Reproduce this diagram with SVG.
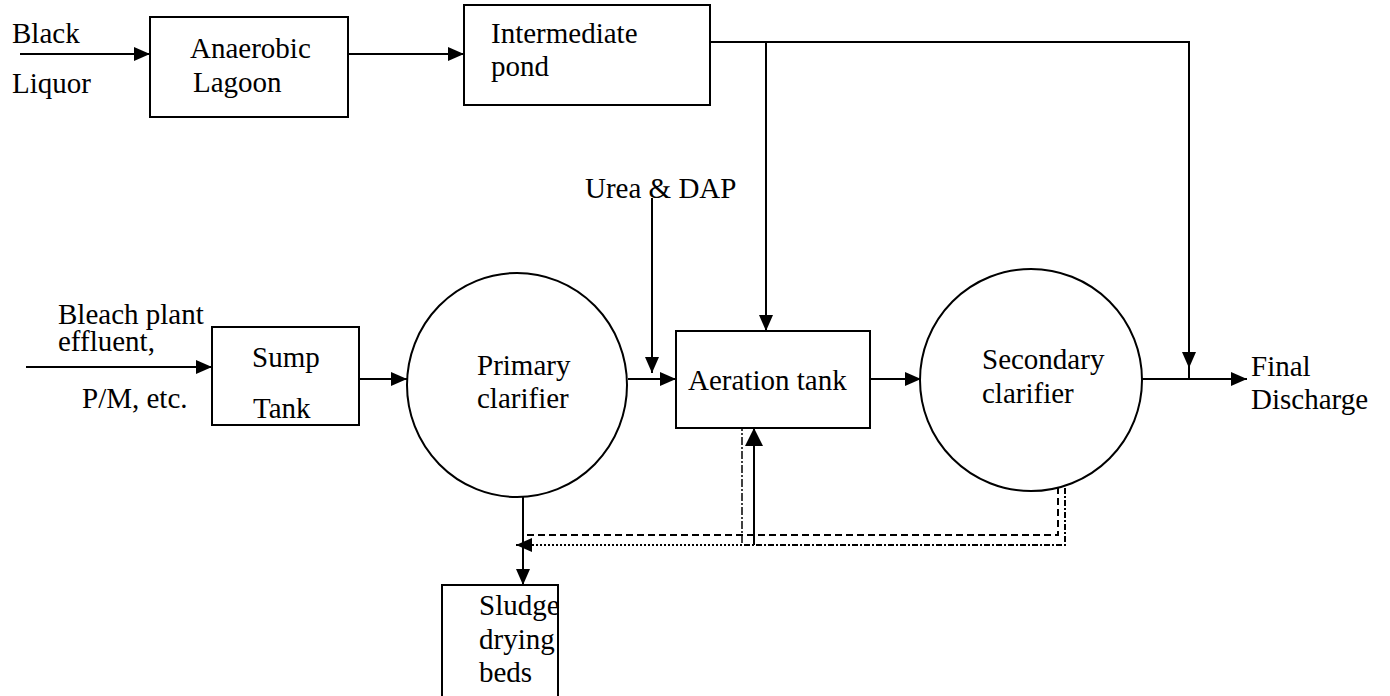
<svg xmlns="http://www.w3.org/2000/svg" width="1390" height="696" viewBox="0 0 1390 696">
<style>
.t{font-family:'Liberation Serif','DejaVu Serif',serif;font-size:29px;fill:#000}
.box{fill:#fff;stroke:#000;stroke-width:2}
.ln{fill:none;stroke:#000;stroke-width:2}
.dash{fill:none;stroke:#000;stroke-width:2;stroke-dasharray:7 4}
.dash2{fill:none;stroke:#000;stroke-width:2;stroke-dasharray:6 2 2 2}
.dot{fill:none;stroke:#000;stroke-width:2;stroke-dasharray:2 2}
.dashdot{fill:none;stroke:#000;stroke-width:1.5;stroke-dasharray:8 2 2 2}
</style>
<defs>
<marker id="ah" markerUnits="userSpaceOnUse" markerWidth="16" markerHeight="14" refX="16" refY="7" orient="auto">
<path d="M0,0 L16,7 L0,14 z" fill="#000"/>
</marker>
<marker id="ahb" markerUnits="userSpaceOnUse" markerWidth="18" markerHeight="18" refX="18" refY="9" orient="auto">
<path d="M0,0 L18,9 L0,18 z" fill="#000"/>
</marker>
</defs>
<g id="connectors">
<path class="ln" d="M20,54 H150" marker-end="url(#ah)"/>
<path class="ln" d="M348,54 H464" marker-end="url(#ah)"/>
<path class="ln" d="M710,42 H1189 V368" marker-end="url(#ah)"/>
<path class="ln" d="M1189,366 V379"/>
<path class="ln" d="M766,42 V331" marker-end="url(#ah)"/>
<path class="ln" d="M26,367 H212" marker-end="url(#ah)"/>
<path class="ln" d="M359,379 H407" marker-end="url(#ah)"/>
<path class="ln" d="M628,379 H676" marker-end="url(#ah)"/>
<path class="ln" d="M652,198 V373" marker-end="url(#ah)"/>
<path class="ln" d="M870,379 H921" marker-end="url(#ah)"/>
<path class="ln" d="M1142,379 H1247" marker-end="url(#ah)"/>
<path class="ln" d="M523,497 V585" marker-end="url(#ah)"/>
<path class="dash" d="M1058,487 V535 H523"/>
<path class="dash2" d="M1065,488 V545 H742"/>
<path class="dot" d="M742,545 H516" marker-end="url(#ah)"/>
<path class="dashdot" d="M742,423 V545"/>
<path class="ln" d="M754,545 V428" marker-end="url(#ahb)"/>
</g>
<g id="black-liquor" class="t" font-family="Liberation Serif, serif">
<text x="12" y="43">Black</text>
<text x="12" y="93">Liquor</text>
</g>
<g id="anaerobic-lagoon">
<rect class="box" x="150" y="17" width="198" height="100"/>
<text class="t" x="190" y="58">Anaerobic</text>
<text class="t" x="193" y="92">Lagoon</text>
</g>
<g id="intermediate-pond">
<rect class="box" x="464" y="5" width="246" height="100"/>
<text class="t" x="491" y="43">Intermediate</text>
<text class="t" x="491" y="76">pond</text>
</g>
<g id="urea-dap">
<text class="t" x="585" y="198">Urea &amp; DAP</text>
</g>
<g id="bleach-input">
<text class="t" x="58" y="324">Bleach plant</text>
<text class="t" x="58" y="351">effluent,</text>
<text class="t" x="82" y="408">P/M, etc.</text>
</g>
<g id="sump-tank">
<rect class="box" x="212" y="327" width="147" height="98"/>
<text class="t" x="252" y="367">Sump</text>
<text class="t" x="253" y="418">Tank</text>
</g>
<g id="primary-clarifier">
<ellipse class="box" cx="517" cy="385" rx="110" ry="112"/>
<text class="t" x="477" y="375">Primary</text>
<text class="t" x="477" y="408">clarifier</text>
</g>
<g id="aeration-tank">
<rect class="box" x="676" y="331" width="194" height="97"/>
<text class="t" x="688" y="390">Aeration tank</text>
</g>
<g id="secondary-clarifier">
<ellipse class="box" cx="1031" cy="380" rx="111" ry="111"/>
<text class="t" x="982" y="369">Secondary</text>
<text class="t" x="982" y="403">clarifier</text>
</g>
<g id="final-discharge">
<text class="t" x="1251" y="376">Final</text>
<text class="t" x="1251" y="409">Discharge</text>
</g>
<g id="sludge-drying-beds">
<rect class="box" x="442" y="585" width="116" height="120"/>
<text class="t" x="479" y="615">Sludge</text>
<text class="t" x="479" y="649">drying</text>
<text class="t" x="479" y="682">beds</text>
</g>
</svg>
